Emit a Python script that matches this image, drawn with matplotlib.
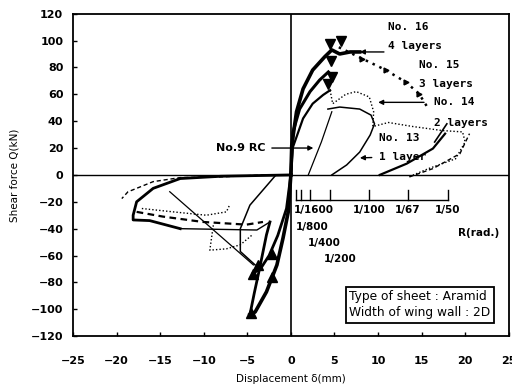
import matplotlib.pyplot as plt

# hysteresis traces (displacement mm, shear kN)
no16_pos_x = [0, 0.1, 0.65, 1.4, 2.5, 3.9, 4.7, 5.6, 6.8, 7.9]
no16_pos_y = [0, 22, 47, 64, 78, 88, 93, 90, 91.5, 91.5]
no15_pos_x = [0, 0.25, 1.0, 2.2, 3.3, 4.3]
no15_pos_y = [0, 32, 49, 62, 70.6, 76.6]
no14_pos_x = [0, 0.2, 1.4, 2.5, 3.7, 4.5]
no14_pos_y = [0, 20, 42, 53, 59.5, 63]

no15_soft_x = [5.5, 8.2, 10.9, 13.2, 14.7, 15.8]
no15_soft_y = [95, 86.5, 78, 69, 60.5, 49]

no14_loop_x = [4.5, 4.8, 6.3, 7.5, 9.0, 9.5, 9.4, 11.2, 14.0, 17.4, 19.7, 20.0, 18.9, 15.8, 13.5]
no14_loop_y = [63, 53, 60, 62, 58, 47, 36, 39, 36, 33, 32, 24.5, 12, 4.7, -1.5]

no13_loop_x = [4.25, 5.6, 7.9, 9.2, 9.6, 9.1, 7.9, 6.4, 4.7]
no13_loop_y = [49, 50.5, 49, 44.5, 38, 29.7, 17, 7.4, 0]
no13_ret_x = [4.7, 3.5, 2.0]
no13_ret_y = [47, 24.5, 0]
no13_far_x = [10.2, 13.3, 16.3, 17.7]
no13_far_y = [0, 8.4, 19.6, 30.7]
dash_far_x = [13.6, 16.3, 19.4, 20.5]
dash_far_y = [-1.5, 4.7, 15.8, 30.7]

no16_neg_x = [0, -0.3, -0.9, -1.6, -2.8, -4.1, -4.7]
no16_neg_y = [0, -27.5, -47, -67, -87, -102, -104]
no16_up_x = [-4.7, -4.2, -3.6, -2.8, -2.4]
no16_up_y = [-104, -88, -70, -44.6, -35]
no15_neg_x = [0, -0.5, -1.5, -2.5, -3.5, -4.3]
no15_neg_y = [0, -25, -45, -60, -70, -73]

left_loop_x = [0, -4, -8, -12.7, -15.8, -17.7, -18.1, -18.1, -16.2, -12.7]
left_loop_y = [0, -0.5, -1, -2.7, -10, -20, -30, -33.5, -34, -40]
left_thin_x = [-12.7, -3.9, -2.4]
left_thin_y = [-40, -41, -35]
dash_top_x = [-3, -8.1, -12.7, -15.8, -18.7, -19.4]
dash_top_y = [0, -1.5, -2, -5, -12.6, -17.6]
dash_low_x = [-17.7, -14.7, -10.1, -5.1, -3.2]
dash_low_y = [-27.5, -31, -35, -37, -35]
dot_mid_x = [-17.1, -13.5, -9.7, -7.4, -7.0]
dot_mid_y = [-25, -27.5, -30, -27.5, -22]
dot_box_x = [-8.9, -9.3, -7.4, -5.8, -4.5]
dot_box_y = [-37.5, -56, -55, -52, -45]
no13_neg_x = [-1.8, -4.7, -5.8, -5.8, -4.1]
no13_neg_y = [-0.7, -22.5, -40, -57, -67]
diag_x = [-13.9, -4.3]
diag_y = [-12.5, -67]

peak_pos_x = [4.5, 5.8, 4.6, 4.7, 4.25]
peak_pos_y = [97.6, 100, 85, 73, 68]
peak_neg_x = [-4.6, -3.8, -4.3, -2.2, -2.2]
peak_neg_y = [-103, -67, -73.6, -59, -76]

# drift angle scale (height 900 mm)
r_labels = ["1/1600", "1/800", "1/400", "1/200", "1/100", "1/67", "1/50"]
r_values = [1 / 1600, 1 / 800, 1 / 400, 1 / 200, 1 / 100, 1 / 67, 1 / 50]
wall_h = 900

fig = plt.figure(figsize=(5.12, 3.9), dpi=100)
ax = fig.add_axes([0.1426, 0.138, 0.851, 0.827])

k = "black"
ax.plot(no16_pos_x, no16_pos_y, color=k, lw=2.6)
ax.plot(no15_pos_x, no15_pos_y, color=k, lw=2.2)
ax.plot(no14_pos_x, no14_pos_y, color=k, lw=1.6)
ax.plot(no15_soft_x, no15_soft_y, color=k, lw=1.8, ls=(0, (1, 2)),
        marker=">", markersize=3.5, markevery=[1, 2, 3, 4])
ax.plot(no14_loop_x, no14_loop_y, color=k, lw=1.0, ls=(0, (1, 1.5)))
ax.plot(no13_loop_x, no13_loop_y, color=k, lw=1.1)
ax.plot(no13_ret_x, no13_ret_y, color=k, lw=0.9)
ax.plot(no13_far_x, no13_far_y, color=k, lw=1.6)
ax.plot(dash_far_x, dash_far_y, color=k, lw=1.0, ls=(0, (3, 2)))

ax.plot(no16_neg_x, no16_neg_y, color=k, lw=2.6)
ax.plot(no16_up_x, no16_up_y, color=k, lw=2.0)
ax.plot(no15_neg_x, no15_neg_y, color=k, lw=2.0)
ax.plot(left_loop_x, left_loop_y, color=k, lw=2.0)
ax.plot(left_thin_x, left_thin_y, color=k, lw=1.0)
ax.plot(dash_top_x, dash_top_y, color=k, lw=1.0, ls=(0, (3, 2)))
ax.plot(dash_low_x, dash_low_y, color=k, lw=1.6, ls=(0, (3, 2)))
ax.plot(dot_mid_x, dot_mid_y, color=k, lw=1.0, ls=(0, (1, 1.5)))
ax.plot(dot_box_x, dot_box_y, color=k, lw=1.0, ls=(0, (1, 1.5)))
ax.plot(no13_neg_x, no13_neg_y, color=k, lw=1.1)
ax.plot(diag_x, diag_y, color=k, lw=0.9)

ax.plot(peak_pos_x, peak_pos_y, "v", color=k, markersize=7, ls="none")
ax.plot(peak_neg_x, peak_neg_y, "^", color=k, markersize=7, ls="none")

ax.axhline(0, color=k, lw=1.0)
ax.axvline(0, color=k, lw=1.2)

# R(rad.) scale
r_pos = [r * wall_h for r in r_values]
ax.plot([r_pos[0], r_pos[-1]], [-18.5, -18.5], color=k, lw=1.0)
for xp in r_pos:
    ax.plot([xp, xp], [-18.5, -11], color=k, lw=1.0)
lab_font = dict(fontsize=7.5, fontweight="bold", color=k)
ax.text(r_pos[0] - 0.2, -26, r_labels[0], ha="left", va="center", **lab_font)
ax.text(r_pos[1] - 0.6, -38.7, r_labels[1], ha="left", va="center", **lab_font)
ax.text(r_pos[2] + 1.6, -50.5, r_labels[2], ha="center", va="center", **lab_font)
ax.text(r_pos[3] + 1.2, -62.5, r_labels[3], ha="center", va="center", **lab_font)
for lab, xp in zip(r_labels[4:], r_pos[4:]):
    ax.text(xp, -26, lab, ha="center", va="center", **lab_font)
ax.text(19.2, -43, "R(rad.)", ha="left", va="center", **lab_font)

# specimen labels
mono = dict(family="DejaVu Sans Mono", fontsize=8, fontweight="bold", color=k)
ax.text(11.2, 110, "No. 16", ha="left", va="center", **mono)
ax.text(11.2, 96, "4 layers", ha="left", va="center", **mono)
ax.text(14.7, 82, "No. 15", ha="left", va="center", **mono)
ax.text(14.7, 68, "3 layers", ha="left", va="center", **mono)
ax.text(16.4, 54, "No. 14", ha="left", va="center", **mono)
ax.text(16.4, 39, "2 layers", ha="left", va="center", **mono)
ax.text(10.1, 27.5, "No. 13", ha="left", va="center", **mono)
ax.text(10.1, 13.4, "1 layer", ha="left", va="center", **mono)
ax.text(-2.9, 20, "No.9 RC", ha="right", va="center", fontsize=8,
        fontweight="bold", color=k)

arr = dict(arrowstyle="-|>", color=k, lw=1.0, mutation_scale=7)
ax.annotate("", xy=(2.9, 20), xytext=(-2.5, 20), arrowprops=arr)
ax.annotate("", xy=(7.6, 91.5), xytext=(11.0, 91.5), arrowprops=arr)
ax.annotate("", xy=(9.7, 54), xytext=(15.6, 54), arrowprops=arr)
ax.annotate("", xy=(7.6, 12.6), xytext=(9.6, 13), arrowprops=arr)
ax.plot([17.9, 16.5], [38, 24.5], color=k, lw=1.2)

ax.text(6.7, -96.5, "Type of sheet : Aramid\nWidth of wing wall : 2D",
        ha="left", va="center", fontsize=8.8, color=k, linespacing=1.25,
        bbox=dict(boxstyle="square,pad=0.3", fc="white", ec=k, lw=1.3))

ax.set_xlim(-25, 25)
ax.set_ylim(-120, 120)
ax.set_xticks(range(-25, 26, 5))
ax.set_yticks(range(-120, 121, 20))
ax.set_xticklabels(["\u221225", "\u221220", "\u221215", "\u221210", "\u22125", "0", "5",
                    "10", "15", "20", "25"])
ax.tick_params(direction="in", length=3, width=1.0, labelsize=8)
ax.tick_params(axis="x", pad=14)
ax.tick_params(axis="y", pad=7)
for lbl in ax.get_xticklabels() + ax.get_yticklabels():
    lbl.set_fontweight("bold")
for sp in ax.spines.values():
    sp.set_linewidth(1.3)

ax.set_xlabel("Displacement \u03b4(mm)", fontsize=7.5, labelpad=6)
ax.set_ylabel("Shear force Q(kN)", fontsize=7.5, labelpad=8)

fig.savefig("out.png", dpi=100)
